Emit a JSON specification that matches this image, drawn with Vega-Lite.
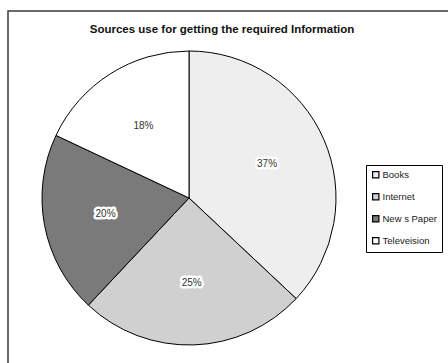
{
  "$schema": "https://vega.github.io/schema/vega-lite/v6.json",
  "autosize": {"type": "none"},
  "padding": {"left": 8, "top": 11, "right": 0, "bottom": 0},
  "width": 460,
  "height": 380,
  "background": "white",
  "config": {
    "view": {"stroke": "#3a3a3a", "strokeWidth": 1.5},
    "font": "Liberation Sans"
  },
  "title": {
    "text": "Sources use for getting the required Information",
    "fontSize": 11.5,
    "fontWeight": "bold",
    "color": "#111111",
    "anchor": "middle",
    "dx": -16,
    "offset": -24,
    "font": "Liberation Sans"
  },
  "data": {
    "values": [
      {"source": "Books", "share": 37, "label": "37%"},
      {"source": "Internet", "share": 25, "label": "25%"},
      {"source": "News Paper", "share": 20, "label": "20%"},
      {"source": "Televeision", "share": 18, "label": "18%"}
    ]
  },
  "encoding": {
    "theta": {"field": "share", "type": "quantitative", "stack": true},
    "x": {"value": 181},
    "y": {"value": 187}
  },
  "layer": [
    {
      "mark": {"type": "arc", "outerRadius": 147, "stroke": "#000000", "strokeWidth": 1},
      "encoding": {
        "color": {
          "field": "source",
          "type": "nominal",
          "sort": ["Books", "Internet", "News Paper", "Televeision"],
          "scale": {
            "domain": ["Books", "Internet", "News Paper", "Televeision"],
            "range": ["#eeeeee", "#d0d0d0", "#7a7a7a", "#ffffff"]
          },
          "legend": {
            "title": null,
            "orient": "none",
            "legendX": 358,
            "legendY": 154,
            "labelExpr": "datum.label == 'News Paper' ? 'New s Paper' : datum.label",
            "symbolType": "square",
            "symbolSize": 40,
            "symbolStrokeColor": "#000000",
            "symbolStrokeWidth": 1.2,
            "labelFontSize": 9.5,
            "labelFont": "Liberation Sans",
            "labelColor": "#222222",
            "rowPadding": 10,
            "labelOffset": 2,
            "padding": 5,
            "strokeColor": "#000000",
            "fillColor": "#ffffff"
          }
        },
        "order": {"field": "source", "sort": "ascending"}
      }
    },
    {
      "mark": {"type": "text", "radius": 85, "fontSize": 10, "stroke": "#ffffff", "strokeWidth": 5, "strokeJoin": "round", "font": "Liberation Sans"},
      "encoding": {
        "text": {"field": "label", "type": "nominal"},
        "order": {"field": "source", "sort": "ascending"}
      }
    },
    {
      "mark": {"type": "text", "radius": 85, "fontSize": 10, "fill": "#333333", "font": "Liberation Sans"},
      "encoding": {
        "text": {"field": "label", "type": "nominal"},
        "order": {"field": "source", "sort": "ascending"}
      }
    }
  ]
}
